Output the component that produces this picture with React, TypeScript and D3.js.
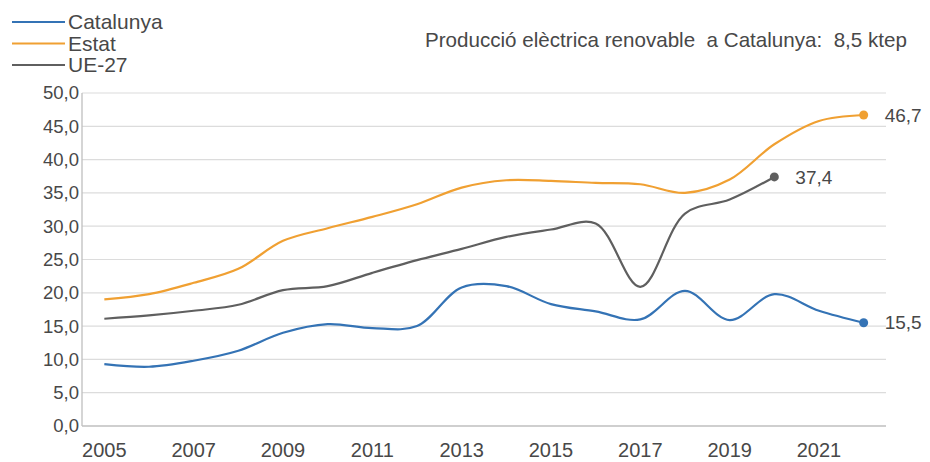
import React from "react";
import * as d3 from "d3";

const years = [2005, 2006, 2007, 2008, 2009, 2010, 2011, 2012, 2013, 2014, 2015, 2016, 2017, 2018, 2019, 2020, 2021, 2022];
const catalunya = [9.3, 8.9, 9.8, 11.3, 14.0, 15.3, 14.7, 15.0, 20.8, 21.0, 18.3, 17.2, 16.0, 20.3, 15.9, 19.8, 17.3, 15.5];
const estat = [19.0, 19.8, 21.5, 23.6, 27.8, 29.7, 31.4, 33.3, 35.8, 36.9, 36.8, 36.5, 36.3, 35.0, 37.0, 42.3, 45.8, 46.7];
const ue27 = [16.1, 16.6, 17.3, 18.2, 20.4, 21.0, 23.0, 24.9, 26.6, 28.4, 29.5, 30.4, 20.9, 31.9, 34.0, 37.4];
const yTicks = [0, 5, 10, 15, 20, 25, 30, 35, 40, 45, 50];
const xTickYears = [2005, 2007, 2009, 2011, 2013, 2015, 2017, 2019, 2021];
const seriesNames = ["Catalunya", "Estat", "UE-27"];
const title = "Producció elèctrica renovable  a Catalunya:  8,5 ktep";

const colors = ["#3473b5", "#f0a032", "#5f5f5f"];
const W = 930, H = 462;
const left = 82, right = 886, top = 93, bottom = 426;
const font = "'Liberation Sans', Arial, sans-serif";

export default function App() {
  const x = d3.scaleBand<number>().domain(years).range([left, right]);
  const cx = (yr: number) => (x(yr) as number) + x.bandwidth() / 2;
  const y = d3.scaleLinear().domain([0, 50]).range([bottom, top]);
  const fmt = (v: number) => d3.format(".1f")(v).replace(".", ",");
  const line = d3
    .line<number>()
    .x((_, i) => cx(years[i]))
    .y((d) => y(d))
    .curve(d3.curveCatmullRom.alpha(0.5));
  const data = [catalunya, estat, ue27];

  return (
    <div style={{ position: "fixed", left: 0, top: 0 }}>
      <svg width={W} height={H} style={{ display: "block", background: "#fff" }} fontFamily={font}>
        {yTicks.map((t) => (
          <g key={t}>
            {t > 0 && <line x1={left} x2={right} y1={y(t)} y2={y(t)} stroke="#dcdcdc" strokeWidth={1.2} />}
            <text x={79} y={y(t)} dy="0.35em" textAnchor="end" fontSize={18.5} fill="#484848">
              {fmt(t)}
            </text>
          </g>
        ))}
        <line x1={left} x2={left} y1={top} y2={bottom} stroke="#bfbfbf" strokeWidth={1.3} />
        <line x1={left} x2={right} y1={bottom} y2={bottom} stroke="#bfbfbf" strokeWidth={1.3} />
        {xTickYears.map((yr) => (
          <text key={yr} x={cx(yr)} y={457} textAnchor="middle" fontSize={20} fill="#484848">
            {yr}
          </text>
        ))}
        {data.map((d, i) => (
          <g key={i}>
            <path d={line(d) || ""} fill="none" stroke={colors[i]} strokeWidth={2.2} />
            <circle cx={cx(years[d.length - 1])} cy={y(d[d.length - 1])} r={4.5} fill={colors[i]} />
            <text
              x={cx(years[d.length - 1]) + 21}
              y={y(d[d.length - 1])}
              dy="0.35em"
              fontSize={19}
              fill="#484848"
            >
              {fmt(d[d.length - 1])}
            </text>
          </g>
        ))}
        {seriesNames.map((n, i) => (
          <g key={n}>
            <line x1={12} x2={65} y1={22 + i * 21.5} y2={22 + i * 21.5} stroke={colors[i]} strokeWidth={2.2} />
            <text x={68} y={22 + i * 21.5} dy="0.35em" fontSize={21} fill="#484848">
              {n}
            </text>
          </g>
        ))}
        <text x={425} y={40} dy="0.35em" fontSize={20.6} fill="#484848" style={{ whiteSpace: "pre" }}>
          {title}
        </text>
      </svg>
    </div>
  );
}
